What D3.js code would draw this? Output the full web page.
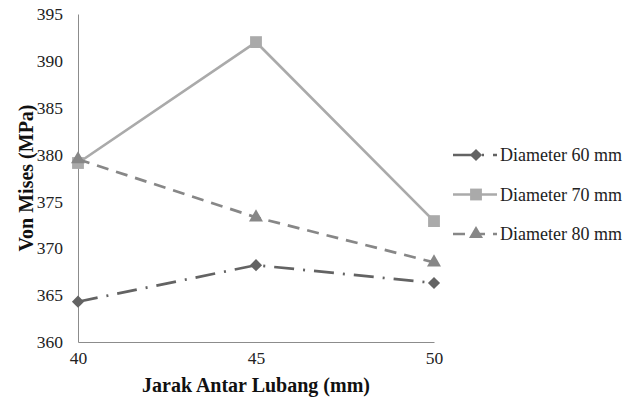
<!DOCTYPE html>
<html>
<head>
<meta charset="utf-8">
<script src="https://cdn.jsdelivr.net/npm/d3@7"></script>
<style>
  body { margin: 0; background: #fff; }
</style>
</head>
<body>
<svg id="chart" width="627" height="401" font-family="Liberation Serif">
  <!-- axis titles kept in markup so the serif face is loaded before the script draws -->
  <text id="x-title" x="256" y="392" text-anchor="middle" font-family="Liberation Serif" font-weight="bold" font-size="20" fill="#111">Jarak Antar Lubang (mm)</text>
  <text id="y-title" transform="translate(33,178) rotate(-90)" text-anchor="middle" font-family="Liberation Serif" font-weight="bold" font-size="20" fill="#111">Von Mises (MPa)</text>
</svg>
<script>
// data
const categories = [40, 45, 50];
const yTicks = [360, 365, 370, 375, 380, 385, 390, 395];
const seriesNames = ['Diameter 60 mm', 'Diameter 70 mm', 'Diameter 80 mm'];
const dia60 = [364.3, 368.2, 366.3];
const dia70 = [379.1, 392.0, 372.9];
const dia80 = [379.5, 373.3, 368.5];

const width = 627;
const height = 401;
const margin = { top: 14, right: 193, bottom: 59, left: 78 };
const font = 'Liberation Serif';

const svg = d3.select('#chart');

const x = d3.scaleLinear()
  .domain([40, 50])
  .range([margin.left, width - margin.right]);

const y = d3.scaleLinear()
  .domain([360, 395])
  .range([height - margin.bottom, margin.top]);

// axes: plain lines, no tick marks
const xAxis = svg.append('g')
  .attr('transform', `translate(0,${height - margin.bottom})`)
  .call(d3.axisBottom(x).tickValues(categories).tickSize(0).tickPadding(10).tickFormat(d3.format('d')));

const yAxis = svg.append('g')
  .attr('transform', `translate(${margin.left},0)`)
  .call(d3.axisLeft(y).tickValues(yTicks).tickSize(0).tickPadding(15).tickFormat(d3.format('d')));

[xAxis, yAxis].forEach(a => {
  a.attr('font-family', font).attr('font-size', 17.5);
  a.select('.domain').attr('stroke', '#8c8c8c').attr('stroke-width', 1);
  a.selectAll('text').attr('fill', '#222');
});

const series = [
  { name: seriesNames[0], values: dia60, color: '#636363', dash: '20,9,2,9', marker: 'diamond' },
  { name: seriesNames[1], values: dia70, color: '#aaaaaa', dash: null, marker: 'square' },
  { name: seriesNames[2], values: dia80, color: '#878787', dash: '12,8', marker: 'triangle' }
];

const symbolType = {
  diamond: d3.symbolSquare,
  square: d3.symbolSquare,
  triangle: d3.symbolTriangle
};
const symbolSize = { diamond: 74, square: 140, triangle: 85 };
const symbolRotate = { diamond: 45, square: 0, triangle: 0 };

const line = d3.line()
  .x((d, i) => x(categories[i]))
  .y(d => y(d));

series.forEach(s => {
  svg.append('path')
    .datum(s.values)
    .attr('fill', 'none')
    .attr('stroke', s.color)
    .attr('stroke-width', 2.7)
    .attr('stroke-dasharray', s.dash)
    .attr('d', line);

  svg.selectAll(null)
    .data(s.values)
    .enter()
    .append('path')
    .attr('transform', (d, i) => `translate(${x(categories[i])},${y(d)}) rotate(${symbolRotate[s.marker]})`)
    .attr('d', d3.symbol().type(symbolType[s.marker]).size(symbolSize[s.marker]))
    .attr('fill', s.color);
});

// legend
const legend = svg.append('g').attr('transform', 'translate(453,155)');
series.forEach((s, i) => {
  const g = legend.append('g').attr('transform', `translate(0,${i * 39.5})`);
  g.append('line')
    .attr('x1', 0).attr('x2', 44)
    .attr('y1', 0).attr('y2', 0)
    .attr('stroke', s.color)
    .attr('stroke-width', 2.7)
    .attr('stroke-dasharray', s.dash);
  g.append('path')
    .attr('transform', `translate(23,0) rotate(${symbolRotate[s.marker]})`)
    .attr('d', d3.symbol().type(symbolType[s.marker]).size(symbolSize[s.marker]))
    .attr('fill', s.color);
  g.append('text')
    .attr('x', 47)
    .attr('y', 6)
    .attr('font-family', font)
    .attr('font-size', 18)
    .attr('fill', '#222')
    .text(s.name);
});
</script>
</body>
</html>
